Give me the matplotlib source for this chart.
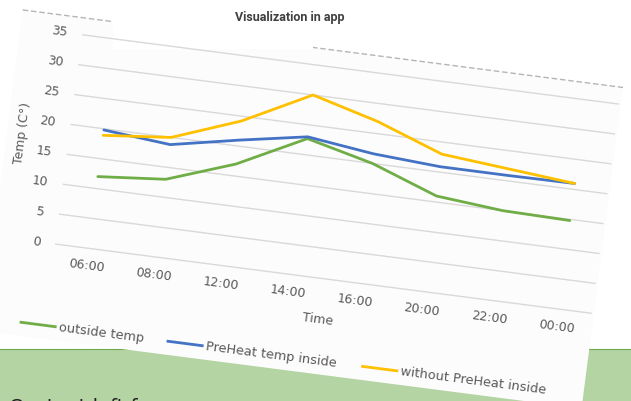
import matplotlib.pyplot as plt
from matplotlib.patches import Rectangle, Polygon
from matplotlib.lines import Line2D
from matplotlib.transforms import Affine2D, IdentityTransform

times = ['06:00', '08:00', '12:00', '14:00', '16:00', '20:00', '22:00', '00:00']
outside = [12, 13, 17, 22.7, 20, 16, 15, 14.8]
preheat = [19.8, 18.8, 21, 23, 21.6, 20.9, 20.9, 21]
without = [18.9, 20, 24.2, 30, 27, 23, 22, 21]
y_ticks = [0, 5, 10, 15, 20, 25, 30, 35]
names = ['outside temp', 'PreHeat temp inside', 'without PreHeat inside']
colors = ['#70ad47', '#4472c4', '#ffc000']

W, H = 631, 401
ANG = -7.36            # the whole chart is tilted (screenshot)
ox, oy = 55, 157       # bottom-left of plot area, in pixels
pw, ph = 541.4, 211.0

fig = plt.figure(figsize=(W / 100, H / 100), dpi=100)
fig.patch.set_facecolor('white')
ident = IdentityTransform()

# green page strip under the screenshot
fig.patches.append(Rectangle((0, 0), W, 52, transform=ident,
                             facecolor='#b4d4a3', edgecolor='none', zorder=0))
fig.add_artist(Line2D([0, W], [52, 52], transform=ident, color='#6fa84a', lw=0.8, zorder=0.5))
fig.text(9 / W, -12 / H, 'Content left for', fontsize=14, color='#222222', va='baseline')

# tilted chart area
frame = Affine2D().rotate_deg(ANG).translate(ox, oy)
fig.patches.append(Polygon([(-62, -95.6), (543.3, -95.6), (543.3, 228), (-62, 228)],
                           closed=True, transform=frame, facecolor='#fcfcfc',
                           edgecolor='none', zorder=1))
fig.add_artist(Line2D([-62, 543.3], [228, 228], transform=frame, color='#b5b5b5',
                      lw=1, ls=(0, (4, 2)), zorder=2))

# white box behind the title
fig.patches.append(Rectangle((113, 352), 200, 49, transform=ident,
                             facecolor='white', edgecolor='none', zorder=3))
fig.text(290 / W, 1 - 17 / H, 'Visualization in app', ha='center', va='center',
         fontsize=9, fontweight='bold', family='Roboto', color='#404040', zorder=4)

ax = fig.add_axes([ox / W, oy / H, pw / W, ph / H])
ax.set_xlim(0, len(times))
ax.set_ylim(0, 35)
ax.axis('off')
ax.set_zorder(5)
tr = ax.transData + Affine2D().rotate_deg_around(ox, oy, ANG)

ax.hlines(y_ticks, 0, len(times), colors='#d9d9d9', lw=1, transform=tr, clip_on=False)

xs = [i + 0.5 for i in range(len(times))]
for vals, c in zip([outside, preheat, without], colors):
    ax.plot(xs, vals, color=c, lw=2, transform=tr, clip_on=False,
            solid_joinstyle='round', solid_capstyle='round')

tc = '#595959'
for v in y_ticks:
    ax.text(-0.22, v, str(v), ha='right', va='center', rotation=ANG,
            rotation_mode='anchor', transform=tr, fontsize=9, color=tc)
for x, t in zip(xs, times):
    ax.text(x, -3.0, t, ha='center', va='center', rotation=ANG,
            rotation_mode='anchor', transform=tr, fontsize=9, color=tc)
ax.text(len(times) / 2, -6.87, 'Time', ha='center', va='center', rotation=ANG,
        rotation_mode='anchor', transform=tr, fontsize=9, color=tc)
ax.text(-0.69, 17.5, 'Temp (C°)', ha='center', va='center', rotation=90 + ANG,
        rotation_mode='anchor', transform=tr, fontsize=9, color=tc)

# legend below the plot (tilted too)
key_x = [-0.35, 1.84, 4.74]
for kx, name, c in zip(key_x, names, colors):
    ax.plot([kx, kx + 0.51], [-13.6, -13.6], color=c, lw=2, transform=tr, clip_on=False)
    ax.text(kx + 0.57, -13.6, name, ha='left', va='center', rotation=ANG,
            rotation_mode='anchor', transform=tr, fontsize=9.3, color=tc)

fig.savefig('out.png', dpi=100)
